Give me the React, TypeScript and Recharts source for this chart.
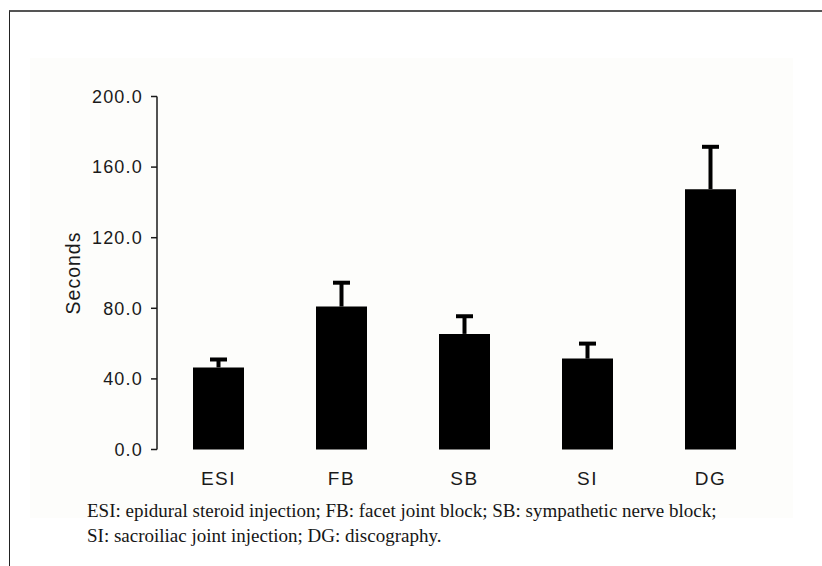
import React from 'react';
import { BarChart, Bar, XAxis, YAxis, ErrorBar } from 'recharts';

const categories = ['ESI', 'FB', 'SB', 'SI', 'DG'];
const means = [46.5, 81, 65.5, 51.5, 147.5];
const upperErrors = [4.5, 13.5, 10, 8.5, 24];
const yTicks = [0, 40, 80, 120, 160, 200];
const boundaryTicks = [0, 1, 2, 3, 4, 5];
const captionLines = [
  'ESI: epidural steroid injection; FB: facet joint block; SB: sympathetic nerve block;',
  'SI: sacroiliac joint injection; DG: discography.',
];

const data = categories.map((name, i) => ({
  name,
  value: means[i],
  err: [0, upperErrors[i]],
}));

const sans = '"Liberation Sans", Arial, sans-serif';

export default function App() {
  return (
    <div style={{ position: 'absolute', left: 0, top: 0, width: 822, height: 566, background: '#fff', overflow: 'hidden' }}>
      <style>{`.recharts-errorBar line:nth-of-type(3){display:none}`}</style>
      <div style={{ position: 'absolute', left: 30, top: 58, width: 763, height: 460, background: '#fdfdfb' }} />
      <div style={{ position: 'absolute', left: 0, top: 0 }}>
        <BarChart
          width={822}
          height={566}
          data={data}
          margin={{ top: 96.5, right: 50, bottom: 76.5, left: -10 }}
        >
          <XAxis
            xAxisId="bounds"
            type="number"
            domain={[0, 5]}
            ticks={boundaryTicks}
            tickFormatter={() => ''}
            allowDataOverflow
            height={0}
            tickSize={6}
            axisLine={{ stroke: '#1a1a1a', strokeWidth: 1.5 }}
            tickLine={{ stroke: '#1a1a1a', strokeWidth: 1.5 }}
          />
          <XAxis
            xAxisId="cat"
            dataKey="name"
            height={40}
            axisLine={false}
            tickLine={false}
            tickSize={0}
            tickMargin={22}
            tick={{ fill: '#1a1a1a', fontFamily: sans, fontSize: 19, style: { letterSpacing: '1.5px' } }}
          />
          <YAxis
            width={167}
            domain={[0, 200]}
            ticks={yTicks}
            interval={0}
            tickFormatter={(v: number) => v.toFixed(1)}
            tickSize={6}
            tickMargin={8}
            axisLine={{ stroke: '#1a1a1a', strokeWidth: 1.5 }}
            tickLine={{ stroke: '#1a1a1a', strokeWidth: 1.5 }}
            tick={{ fill: '#1a1a1a', fontFamily: sans, fontSize: 18, style: { letterSpacing: '1.2px' } }}
            label={{ value: 'Seconds', angle: -90, position: 'center', fill: '#1a1a1a', fontFamily: sans, fontSize: 19.5, style: { letterSpacing: '1px' } }}
          />
          <Bar xAxisId="cat" dataKey="value" fill="#000" barSize={51} isAnimationActive={false}>
            <ErrorBar dataKey="err" direction="y" width={8.5} strokeWidth={4} stroke="#000" isAnimationActive={false} />
          </Bar>
        </BarChart>
      </div>
      <div
        style={{
          position: 'absolute',
          left: 9,
          top: 10,
          width: 813,
          height: 556,
          borderTop: '2px solid #555',
          borderLeft: '1.5px solid #222',
          boxSizing: 'border-box',
        }}
      />
      <div
        style={{
          position: 'absolute',
          left: 87,
          top: 498,
          fontFamily: '"Liberation Serif", serif',
          fontSize: 19,
          lineHeight: '25px',
          color: '#161616',
          whiteSpace: 'nowrap',
        }}
      >
        {captionLines.map((t, i) => (
          <div key={i}>{t}</div>
        ))}
      </div>
    </div>
  );
}
